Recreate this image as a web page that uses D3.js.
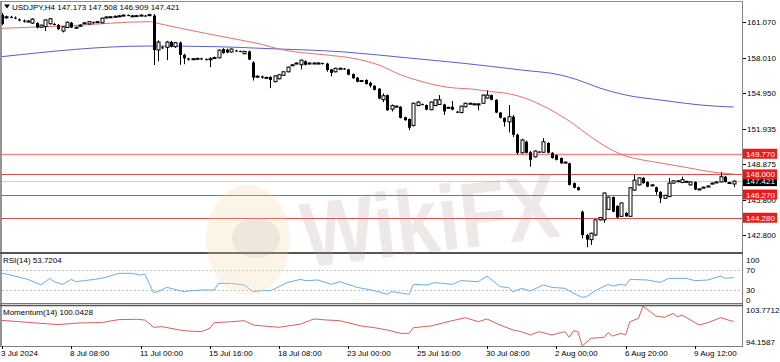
<!DOCTYPE html>
<html>
<head>
<meta charset="utf-8">
<script src="https://cdn.jsdelivr.net/npm/d3@7"></script>
<style>
  body { margin: 0; background: #fff; }
  svg { display: block; font-family: "Liberation Sans", Arial, sans-serif; }
</style>
</head>
<body>
<svg id="chart" width="780" height="362"></svg>
<script>
// ---- data (USDJPY H4) ----
const symbolTitle = "USDJPY,H4";
const lastBar = [147.173, 147.508, 146.909, 147.421];

// [open, high, low, close]
const candles = [
  [161.70,161.85,160.80,160.90],[161.45,161.62,161.35,161.52],[161.52,161.60,161.40,161.48],[161.45,161.55,161.30,161.38],
  [161.30,161.38,161.12,161.20],[161.20,161.28,161.02,161.10],[161.10,161.25,161.05,161.15],[160.98,161.40,160.90,161.32],
  [160.98,161.05,160.52,160.60],[160.62,160.85,160.55,160.80],[160.68,161.30,160.30,161.25],[160.92,161.42,160.85,161.35],
  [160.90,160.98,160.78,160.85],[160.82,160.90,160.40,160.45],[160.30,160.72,160.18,160.65],[160.60,161.10,160.55,161.05],
  [161.00,161.08,160.55,160.60],[160.60,160.68,160.52,160.62],[160.70,160.88,160.65,160.80],[160.95,161.08,160.90,161.00],
  [160.90,161.15,160.85,161.10],[161.05,161.10,160.92,161.00],[161.08,161.15,161.00,161.10],[161.00,161.45,160.95,161.40],
  [161.45,161.55,161.40,161.50],[161.48,161.58,161.42,161.52],[161.55,161.62,161.48,161.56],[161.58,161.68,161.50,161.60],
  [161.62,161.72,161.58,161.66],[161.66,161.72,161.58,161.64],[161.60,161.68,161.52,161.60],[161.60,161.66,161.55,161.62],
  [161.64,161.72,161.58,161.66],[161.62,161.68,161.55,161.60],[161.66,161.78,161.60,161.70],[161.62,161.75,157.38,158.67],
  [158.67,159.50,157.70,159.35],[158.90,159.00,158.75,158.85],[158.90,159.45,157.80,159.35],[159.35,159.45,158.90,158.95],
  [158.95,159.35,158.85,159.30],[159.30,159.40,157.40,158.25],[158.25,158.35,157.45,157.95],[157.95,158.00,157.75,157.85],
  [157.88,157.98,157.80,157.92],[157.92,158.00,157.85,157.95],[157.95,158.00,157.82,157.88],[157.88,157.95,157.78,157.85],
  [157.85,158.05,157.20,157.92],[157.95,158.10,157.92,158.02],[158.00,158.72,157.95,158.65],[158.75,158.82,158.35,158.40],
  [158.70,158.78,158.40,158.45],[158.50,158.80,158.45,158.75],[158.62,158.68,158.55,158.60],[158.58,158.62,158.48,158.52],
  [158.35,158.60,158.30,158.55],[158.55,158.62,157.80,157.85],[157.60,157.70,156.05,156.30],[156.35,156.50,156.30,156.42],
  [156.40,156.48,156.20,156.30],[156.30,156.38,156.22,156.32],[156.35,156.42,155.40,156.10],[155.95,156.50,155.90,156.45],
  [156.20,156.60,156.15,156.55],[156.50,156.85,156.45,156.80],[156.80,157.25,156.75,157.20],[157.35,157.45,157.30,157.40],
  [157.50,157.60,157.45,157.55],[157.40,157.85,157.00,157.80],[157.70,157.78,157.35,157.40],[157.50,157.60,157.45,157.55],
  [157.52,157.60,157.48,157.55],[157.55,157.62,157.45,157.55],[157.55,157.58,157.42,157.50],[157.50,157.58,156.80,156.95],
  [157.00,157.05,156.40,156.70],[156.80,157.15,156.75,157.10],[157.08,157.15,157.00,157.10],[157.08,157.12,156.98,157.05],
  [157.00,157.05,156.50,156.55],[156.60,156.65,156.20,156.25],[156.30,156.35,155.90,155.95],[156.02,156.10,155.98,156.05],
  [156.10,156.15,155.70,155.75],[155.85,155.95,155.45,155.60],[155.60,155.65,155.20,155.25],[155.35,155.40,154.45,154.50],
  [154.40,154.95,154.20,154.75],[154.80,154.85,153.45,153.50],[153.60,154.00,153.40,153.90],[153.82,153.90,153.78,153.85],
  [153.80,153.85,152.80,152.85],[152.90,152.95,152.60,152.65],[152.75,152.80,151.80,152.00],[152.20,154.15,152.10,154.10],
  [153.90,154.30,153.85,154.20],[154.02,154.08,153.95,154.00],[153.95,154.00,153.50,153.55],[153.55,154.25,153.50,154.20],
  [153.90,154.45,153.85,154.40],[154.00,154.80,153.95,154.40],[154.00,154.05,153.10,153.40],[153.72,153.80,153.68,153.75],
  [153.80,154.30,153.50,153.55],[153.38,153.45,153.25,153.35],[153.30,153.90,153.25,153.85],[153.80,154.15,153.75,154.10],
  [154.08,154.15,154.05,154.10],[154.05,154.10,154.00,154.05],[154.05,154.10,153.50,154.05],[154.10,154.85,154.05,154.80],
  [154.55,155.20,154.50,154.80],[154.80,154.85,154.35,154.40],[154.40,154.45,153.25,153.30],[153.30,153.35,152.80,152.85],
  [152.85,152.90,152.10,152.50],[152.50,153.95,151.60,152.95],[152.95,153.10,151.20,151.40],[151.40,151.50,149.70,149.85],
  [149.85,151.05,149.80,150.95],[150.80,150.90,149.80,149.85],[149.90,150.00,148.65,149.25],[149.50,150.05,149.45,150.00],
  [149.95,150.00,149.85,149.90],[149.90,151.10,149.85,150.80],[150.70,150.75,149.80,149.85],[149.85,149.90,149.35,149.40],
  [149.65,149.70,149.20,149.25],[149.40,149.45,148.90,148.95],[149.00,149.10,148.98,149.05],[148.95,149.00,147.05,147.10],
  [147.25,147.30,146.80,146.85],[146.90,146.95,146.60,146.65],[144.80,144.90,142.50,142.80],[142.80,142.90,141.75,142.40],
  [142.40,143.00,141.95,142.95],[142.80,144.15,142.70,144.10],[144.10,144.35,144.05,144.30],[144.10,146.45,143.85,146.40],
  [145.00,146.10,144.95,146.05],[146.05,146.10,144.75,144.80],[145.30,145.35,144.25,144.30],[144.40,145.60,144.35,145.55],
  [144.70,144.75,144.35,144.40],[144.40,146.90,144.35,146.85],[146.65,147.95,146.60,147.50],[147.10,147.75,147.05,147.70],
  [147.70,147.75,147.20,147.25],[147.35,147.40,146.90,146.95],[147.05,147.15,147.00,147.10],[146.90,146.95,146.25,146.50],
  [146.50,146.55,145.55,145.95],[145.95,146.25,145.90,146.20],[146.10,147.70,146.05,147.25],[147.25,147.50,147.20,147.45],
  [147.42,147.50,147.40,147.45],[147.30,147.80,147.25,147.55],[147.38,147.45,147.35,147.40],[147.10,147.40,147.05,147.35],
  [147.35,147.40,146.65,146.70],[146.72,146.80,146.70,146.75],[146.88,146.95,146.85,146.90],[146.98,147.05,146.95,147.00],
  [147.22,147.30,147.20,147.25],[147.32,147.40,147.30,147.35],[147.35,148.20,147.30,147.80],[147.80,147.85,147.30,147.35],
  [147.28,147.35,147.20,147.30],[147.173,147.508,146.909,147.421]
];

// moving averages, [bar index, value]
const maRed = [[0,160.53],[16,160.76],[34,161.10],[36,160.95],[41,160.55],[47,160.10],[55,159.53],[60,159.15],[64,158.75],
  [67,158.55],[75,158.24],[81,157.96],[87,157.38],[92,156.55],[97,155.95],[103,155.47],[109,155.30],[113,155.10],[116,154.98],
  [120,154.64],[124,154.04],[128,153.27],[132,152.32],[136,151.21],[140,150.26],[144,149.58],[148,149.23],[152,148.98],
  [156,148.72],[160,148.46],[164,148.20],[169,148.03]];
const maBlue = [[0,158.10],[34,159.01],[50,158.95],[60,158.81],[79,158.50],[94,157.98],[106,157.55],[120,156.95],[129,156.52],
  [133,156.10],[138,155.41],[144,154.81],[152,154.38],[164,153.87],[169,153.78]];

const rsiValues = [[0,62.4],[2,59],[4,54.3],[6,50.3],[9,39],[11,52.3],[12,45.7],[14,40.3],[16,50.3],[17,45.7],[19,47.7],[22,51],
  [24,54.3],[27,62.3],[30,62.3],[32,59],[33,60.3],[35,23.7],[36,25.7],[38,34.3],[39,32.3],[42,25.7],[43,27],[46,29],[49,29],
  [50,42.3],[53,42.3],[56,39],[58,25.7],[60,27.7],[62,27.7],[64,35.7],[66,44.3],[69,50.3],[70,47.7],[73,49],[76,40.3],[78,45.7],
  [82,34.3],[86,27.7],[89,20.3],[90,25.7],[94,20.3],[95,40.3],[98,39],[100,43.7],[104,40.3],[106,47.7],[110,45.7],[112,57],
  [115,35.7],[117,33.7],[118,25.7],[120,32.3],[122,27],[125,39],[127,34.3],[130,32.3],[132,22.3],[134,14.3],[135,15.7],
  [137,27.7],[140,40.3],[141,37],[143,40.3],[144,37.7],[145,50.3],[149,49],[152,44.3],[154,52.3],[158,52.3],[160,47.7],
  [163,49],[166,57],[167,52.3],[169,53.72]];
const momValues = [[0,100.3],[4,100.0],[9,99.6],[13,99.3],[18,99.7],[23,99.8],[27,100.5],[31,100.57],[33,100.41],[35,98.65],
  [37,98.8],[41,98.0],[43,97.76],[46,97.6],[48,98.4],[49,99.76],[53,100.0],[56,100.24],[58,99.2],[60,99.0],[64,98.65],
  [69,99.44],[72,100.65],[75,100.41],[78,100.24],[83,98.96],[86,98.56],[89,98.0],[92,97.2],[94,97.2],[95,98.56],[99,98.96],
  [103,100.0],[107,100.96],[110,100.0],[112,100.65],[115,99.2],[118,98.0],[120,97.6],[122,96.8],[124,97.6],[127,96.8],
  [130,97.6],[131,96.25],[132,97.84],[133,97.6],[134,94.16],[136,96.0],[139,96.25],[140,97.36],[141,96.56],[143,97.2],
  [144,96.8],[145,100.0],[147,100.8],[148,103.77],[149,102.96],[151,101.37],[153,101.05],[155,102.0],[156,101.2],[157,101.6],
  [159,100.41],[161,99.2],[163,99.76],[166,100.96],[168,100.3],[169,100.04]];

const priceTicks = [161.070, 158.010, 154.950, 151.935, 148.875, 145.800, 142.800];
const levels = [149.770, 148.000, 146.270, 144.280];
const rsiTicks = [100, 70, 30, 0];
const rsiDots = [70, 30];
const momRange = [94.1587, 103.7712];
const rsiLabel = "RSI(14) 53.7204";
const momLabel = "Momentum(14) 100.0428";
const timeTicks = [[0,"3 Jul 2024"],[16,"8 Jul 08:00"],[32,"11 Jul 00:00"],[48,"15 Jul 16:00"],[64,"18 Jul 08:00"],
  [80,"23 Jul 00:00"],[96,"25 Jul 16:00"],[112,"30 Jul 08:00"],[128,"2 Aug 00:00"],[144,"6 Aug 20:00"],[160,"9 Aug 12:00"]];

// ---- layout ----
const svg = d3.select("#chart");
const right = 743;
const main = {top: 2, bottom: 253};
const rsiP = {top: 254.5, bottom: 304.5};
const momP = {top: 306, bottom: 346};

const x = d3.scaleLinear().domain([0, candles.length - 1]).range([2, 733.8]);
const y = d3.scaleLinear().domain([141.256, 162.786]).range([main.bottom, main.top]);
const yRsi = d3.scaleLinear().domain([0, 100]).range([rsiP.bottom, rsiP.top]);
const yMom = d3.scaleLinear().domain(momRange).range([momP.bottom, momP.top]);

svg.append("rect").attr("width", 780).attr("height", 362).attr("fill", "#fff");

const defs = svg.append("defs");
defs.append("clipPath").attr("id", "clipMain").append("rect")
  .attr("x", 1).attr("y", main.top).attr("width", right - 1).attr("height", main.bottom - main.top);

const gMain = svg.append("g").attr("clip-path", "url(#clipMain)");

// current price line and levels
gMain.append("line").attr("x1", 0).attr("x2", right).attr("y1", Math.round(y(lastBar[3])) + 0.5)
  .attr("y2", Math.round(y(lastBar[3])) + 0.5).attr("stroke", "#cfcfcf");
gMain.selectAll(".lvl").data(levels).join("line")
  .attr("x1", 0).attr("x2", right)
  .attr("y1", d => Math.round(y(d)) + 0.5).attr("y2", d => Math.round(y(d)) + 0.5)
  .attr("stroke", (d, i) => i === 0 ? "#f08a8a" : "#e04a4a")
  .attr("stroke-width", (d, i) => i === 0 ? 1.6 : 1);

// moving averages
const maLine = d3.line().x(d => x(d[0])).y(d => y(d[1])).curve(d3.curveMonotoneX);
gMain.append("path").attr("d", maLine(maBlue)).attr("fill", "none").attr("stroke", "#5b5bd6").attr("stroke-width", 1);
gMain.append("path").attr("d", maLine(maRed)).attr("fill", "none").attr("stroke", "#ec6e6e").attr("stroke-width", 1);

// candles
const cx = i => Math.round(x(i)) + 0.5;
gMain.selectAll(".wick").data(candles).join("line")
  .attr("x1", (d, i) => cx(i)).attr("x2", (d, i) => cx(i))
  .attr("y1", d => y(d[1])).attr("y2", d => y(d[2]))
  .attr("stroke", "#000").attr("stroke-width", 1);
gMain.selectAll(".body").data(candles).join("rect")
  .attr("x", (d, i) => cx(i) - 1.5)
  .attr("width", 3)
  .attr("y", d => y(Math.max(d[0], d[3])))
  .attr("height", d => Math.max(1, Math.abs(y(d[0]) - y(d[3]))))
  .attr("fill", d => d[3] >= d[0] ? "#fff" : "#000")
  .attr("stroke", d => d[3] >= d[0] ? "#000" : "none")
  .attr("stroke-width", 1);

// ---- RSI panel ----
svg.selectAll(".rsidot").data(rsiDots).join("line")
  .attr("x1", 2).attr("x2", right)
  .attr("y1", d => Math.round(yRsi(d)) + 0.5).attr("y2", d => Math.round(yRsi(d)) + 0.5)
  .attr("stroke", "#c4c4c4").attr("stroke-dasharray", "2,2");
const indLine = (sc) => d3.line().x(d => x(d[0])).y(d => sc(d[1]));
svg.append("path").attr("d", indLine(yRsi)(rsiValues)).attr("fill", "none")
  .attr("stroke", "#6aaee6").attr("stroke-width", 1);

// ---- Momentum panel ----
svg.append("path").attr("d", indLine(yMom)(momValues)).attr("fill", "none")
  .attr("stroke", "#e05c5c").attr("stroke-width", 1);

// ---- frames ----
const frame = svg.append("g").attr("fill", "none");
frame.append("line").attr("x1", 0).attr("x2", right).attr("y1", 1.5).attr("y2", 1.5).attr("stroke", "#8c8c8c");
frame.append("line").attr("x1", 1).attr("x2", 1).attr("y1", 1).attr("y2", momP.bottom).attr("stroke", "#707070").attr("stroke-width", 1.5);
frame.append("line").attr("x1", right - 0.5).attr("x2", right - 0.5).attr("y1", 1).attr("y2", momP.bottom).attr("stroke", "#808080");
frame.append("line").attr("x1", 0).attr("x2", right).attr("y1", 253).attr("y2", 253).attr("stroke", "#555").attr("stroke-width", 2);
frame.append("line").attr("x1", 0).attr("x2", right).attr("y1", 303.5).attr("y2", 303.5).attr("stroke", "#777");
frame.append("line").attr("x1", 0).attr("x2", right).attr("y1", 305.5).attr("y2", 305.5).attr("stroke", "#555").attr("stroke-width", 1.5);
frame.append("line").attr("x1", 0).attr("x2", right).attr("y1", momP.bottom + 0.5).attr("y2", momP.bottom + 0.5).attr("stroke", "#808080");

// ---- price axis ----
const axisG = svg.append("g").attr("font-size", 8).attr("fill", "#000");
axisG.selectAll(".pt").data(priceTicks).join("line")
  .attr("x1", right).attr("x2", right + 3)
  .attr("y1", d => Math.round(y(d)) + 0.5).attr("y2", d => Math.round(y(d)) + 0.5).attr("stroke", "#000");
axisG.selectAll(".ptl").data(priceTicks).join("text")
  .attr("x", right + 4).attr("y", d => y(d) + 3).text(d => d.toFixed(3));

// last price box (black), then level boxes (red) on top, as in the terminal
const boxH = 10;
axisG.append("rect").attr("x", right).attr("y", y(lastBar[3]) - boxH / 2).attr("width", 34).attr("height", boxH).attr("fill", "#000");
axisG.append("text").attr("x", right + 3).attr("y", y(lastBar[3]) + 3).attr("fill", "#fff").text(lastBar[3].toFixed(3));
axisG.selectAll(".lb").data(levels).join("rect")
  .attr("x", right).attr("y", d => y(d) - boxH / 2).attr("width", 34).attr("height", boxH).attr("fill", "#f01818");
axisG.selectAll(".lbt").data(levels).join("text")
  .attr("x", right + 3).attr("y", d => y(d) + 3).attr("fill", "#fff").text(d => d.toFixed(3));

// indicator scales
axisG.selectAll(".rt").data(rsiTicks).join("text")
  .attr("x", right + 3)
  .attr("y", d => Math.min(Math.max(yRsi(d), rsiP.top + 5.5), rsiP.bottom - 4.5) + 3)
  .text(d => d);
axisG.selectAll(".mt").data(momRange).join("text")
  .attr("x", right + 3)
  .attr("y", d => Math.min(Math.max(yMom(d), momP.top + 4), momP.bottom - 4.5) + 3)
  .text(d => d.toFixed(4));

// time axis
axisG.selectAll(".tt").data(timeTicks).join("line")
  .attr("x1", d => cx(d[0])).attr("x2", d => cx(d[0]))
  .attr("y1", momP.bottom).attr("y2", momP.bottom + 3).attr("stroke", "#000");
axisG.selectAll(".ttl").data(timeTicks).join("text")
  .attr("x", d => Math.max(1, cx(d[0]) - 1.5)).attr("y", 356).text(d => d[1]);

// titles
svg.append("path").attr("d", "M4,4.5 L10,4.5 L7,8.5 Z").attr("fill", "#000");
svg.append("text").attr("x", 12).attr("y", 10).attr("font-size", 8)
  .text(symbolTitle + " " + lastBar.map(v => v.toFixed(3)).join(" "));
svg.append("text").attr("x", 3).attr("y", 263).attr("font-size", 8).text(rsiLabel);
svg.append("text").attr("x", 3).attr("y", 315).attr("font-size", 8).text(momLabel);

// watermark
const wm = svg.append("g").attr("pointer-events", "none");
wm.append("ellipse").attr("cx", 248).attr("cy", 240).attr("rx", 42).attr("ry", 55)
  .attr("fill", "#f4d9a0").attr("opacity", 0.25);
wm.append("ellipse").attr("cx", 256).attr("cy", 238).attr("rx", 24).attr("ry", 20)
  .attr("fill", "#9a9a9a").attr("opacity", 0.15);
wm.append("text").attr("x", 300).attr("y", 252)
  .attr("font-size", 92).attr("font-weight", "bold")
  .attr("textLength", 258).attr("lengthAdjust", "spacingAndGlyphs")
  .attr("transform", "rotate(-7,430,215)")
  .attr("fill", "#b89c9c").attr("opacity", 0.22)
  .text("WikiFX");
</script>
</body>
</html>
